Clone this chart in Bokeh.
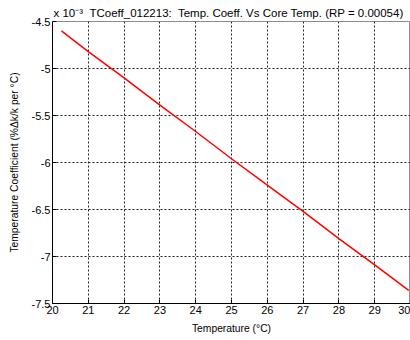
from bokeh.plotting import figure
from bokeh.models import Range1d, FixedTicker
from bokeh.embed import file_html
from bokeh.resources import INLINE

# data (values in units of 1e-3)
temperature = [20.25, 21, 22, 23, 24, 25, 26, 27, 28, 29, 29.95]
temp_coeff = [-4.60, -4.82, -5.10, -5.39, -5.67, -5.96, -6.24, -6.52, -6.81, -7.09, -7.36]

x_ticks = [20, 21, 22, 23, 24, 25, 26, 27, 28, 29, 30]
x_tick_labels = ["20", "21", "22", "23", "24", "25", "26", "27", "28", "29", "30"]
y_ticks = [-7.5, -7, -6.5, -6, -5.5, -5, -4.5]
y_tick_labels = ["-7.5", "-7", "-6.5", "-6", "-5.5", "-5", "-4.5"]

NB = "\u00a0"
multiplier_text = "x 10\u207b\u00b3"
title_text = "TCoeff_012213:" + NB + " Temp. Coeff. Vs Core Temp. (RP = 0.00054)"
FONT = "Liberation Sans"

p = figure(width=410, height=340, output_backend="svg", toolbar_location=None,
           x_range=Range1d(20, 30), y_range=Range1d(-7.5, -4.5),
           min_border_left=52, min_border_right=0, min_border_top=21, min_border_bottom=37)
p.background_fill_color = "white"
p.border_fill_color = "white"
p.outline_line_color = "#8c8c8c"
p.outline_line_width = 1

p.line(temperature, temp_coeff, line_color="#ff0000", line_width=1.5)

for ax in (p.xaxis, p.yaxis):
    ax.axis_line_color = "black"
    ax.major_tick_in = 4
    ax.major_tick_out = 0
    ax.major_tick_line_color = "black"
    ax.minor_tick_line_color = None
    ax.major_label_text_font = FONT
    ax.major_label_text_font_size = "11px"
    ax.major_label_text_color = "black"
    ax.axis_label_text_font = FONT
    ax.axis_label_text_font_size = "10.3px"
    ax.axis_label_text_font_style = "normal"
    ax.axis_label_text_color = "black"

p.xaxis.ticker = FixedTicker(ticks=x_ticks)
p.yaxis.ticker = FixedTicker(ticks=y_ticks)
p.xaxis.major_label_overrides = {t: l for t, l in zip(x_ticks, x_tick_labels)}
p.yaxis.major_label_overrides = {t: l for t, l in zip(y_ticks, y_tick_labels)}
p.xaxis.major_label_standoff = 2
p.yaxis.major_label_standoff = 2
p.xaxis.axis_label = "Temperature (°C)"
p.yaxis.axis_label = "Temperature Coefficient (%Δk/k per °C)"
p.xaxis.axis_label_standoff = 6
p.yaxis.axis_label_standoff = 9

for g in (p.xgrid, p.ygrid):
    g.grid_line_color = "#222222"
    g.grid_line_dash = "2 2"
    g.grid_line_width = 1

p.title.text = multiplier_text + NB + NB + title_text
p.title.align = "left"
p.title.offset = 1
p.title.standoff = 5
p.title.text_font = FONT
p.title.text_font_size = "11.5px"
p.title.text_font_style = "normal"
p.title.text_color = "black"

open("out.html", "w").write(file_html(p, INLINE))
